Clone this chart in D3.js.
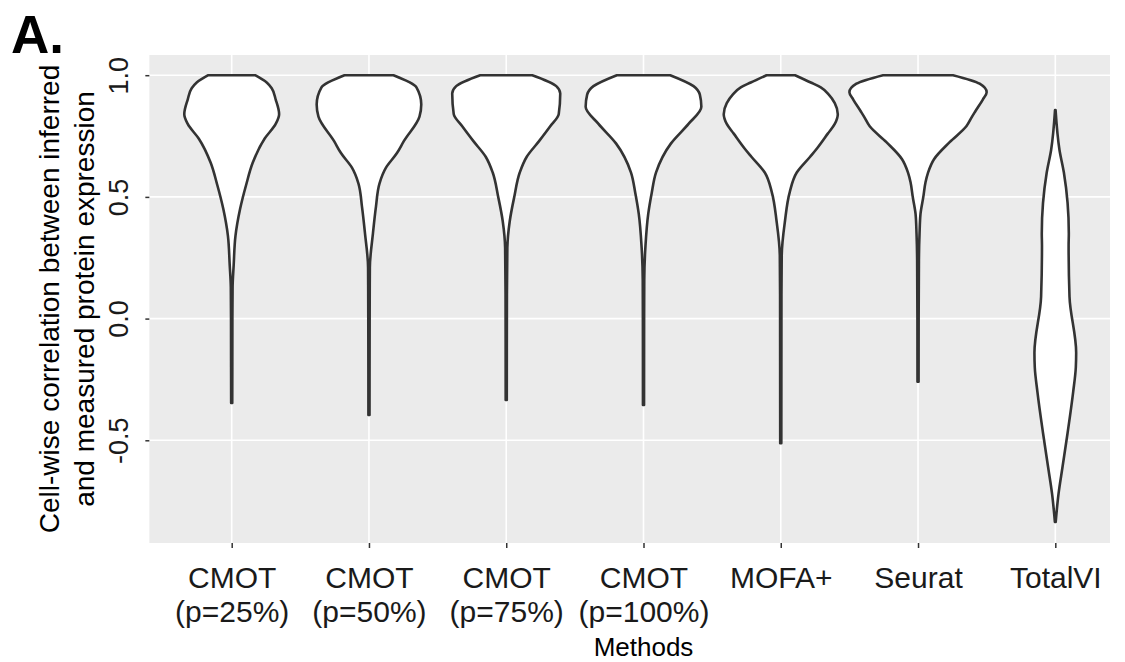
<!DOCTYPE html>
<html>
<head>
<meta charset="utf-8">
<script src="https://cdn.jsdelivr.net/npm/d3@7"></script>
<style>
body{margin:0;background:#fff}
text{font-family:"Liberation Sans",Arial,sans-serif}
</style>
</head>
<body>
<svg width="1125" height="662"></svg>
<script>
// categories and their two-line tick labels
var methods = ["CMOT (p=25%)","CMOT (p=50%)","CMOT (p=75%)","CMOT (p=100%)","MOFA+","Seurat","TotalVI"]
var methodLines = [["CMOT","(p=25%)"],["CMOT","(p=50%)"],["CMOT","(p=75%)"],["CMOT","(p=100%)"],["MOFA+"],["Seurat"],["TotalVI"]]
var yTicks = [-0.5, 0, 0.5, 1]
var yTickLabels = ["-0.5","0.0","0.5","1.0"]

// violin outlines: [correlation, relative density]
var cmot25 = [[1.0,.341],[0.97,.510],[0.946,.583],[0.9,.641],[0.84,.691],[0.80,.641],[0.74,.481],[0.64,.306],[0.55,.211],[0.45,.122],[0.34,.055],[0.22,.029],[0.13,.013],[0,.010],[-0.2,.009],[-0.347,.008]]
var cmot50 = [[1.0,.357],[0.95,.692],[0.88,.762],[0.83,.736],[0.73,.510],[0.68,.408],[0.62,.248],[0.555,.153],[0.46,.102],[0.35,.058],[0.21,.013],[0,.010],[-0.396,.008]]
var cmot75 = [[1.0,.379],[0.955,.729],[0.925,.787],[0.84,.765],[0.79,.641],[0.73,.481],[0.665,.299],[0.6,.197],[0.5,.117],[0.4,.051],[0.29,.016],[0.1,.010],[-0.334,.008]]
var cmot100 = [[1.0,.389],[0.955,.729],[0.92,.821],[0.87,.843],[0.8,.656],[0.72,.401],[0.6,.182],[0.515,.119],[0.43,.069],[0.3,.029],[0.16,.011],[0,.009],[-0.355,.008]]
var mofa = [[1.0,.207],[0.97,.437],[0.95,.583],[0.92,.700],[0.885,.787],[0.84,.831],[0.8,.787],[0.76,.685],[0.7,.530],[0.665,.428],[0.6,.233],[0.52,.131],[0.4,.061],[0.26,.014],[0.1,.010],[-0.512,.008]]
var seurat = [[1.0,.510],[0.965,.898],[0.93,1.0],[0.9,.944],[0.85,.831],[0.83,.787],[0.79,.704],[0.725,.461],[0.655,.233],[0.6,.146],[0.56,.109],[0.5,.077],[0.43,.036],[0.35,.022],[0.24,.013],[0,.009],[-0.259,.008]]
var totalvi = [[0.857,.004],[0.693,.061],[0.6,.125],[0.35,.197],[0.3,.194],[0.09,.207],[-0.14,.304],[-0.2,.299],[-0.3,.261],[-0.47,.179],[-0.61,.105],[-0.72,.047],[-0.835,.006]]
var violins = [cmot25, cmot50, cmot75, cmot100, mofa, seurat, totalvi]

var svg = d3.select("svg")

var x = d3.scalePoint().domain(methods).range([231.7, 1055.3])
var y = d3.scaleLinear().domain([-0.922, 1.083]).range([543, 55])
var w = d3.scaleLinear().domain([0, 1]).range([0, x.step() / 2])

var panelLeft = x.range()[0] - 0.6 * x.step()
var panelRight = 1110
var panelTop = y.range()[1], panelBottom = y.range()[0]

// panel
svg.append("rect")
  .attr("x", panelLeft).attr("y", panelTop)
  .attr("width", panelRight - panelLeft).attr("height", panelBottom - panelTop)
  .attr("fill", "#ebebeb")

svg.append("g").selectAll("line")
  .data(yTicks)
  .enter()
  .append("line")
  .attr("x1", panelLeft).attr("x2", panelRight)
  .attr("y1", function(d){return y(d)}).attr("y2", function(d){return y(d)})
  .attr("stroke", "#fff").attr("stroke-width", 1.6)

svg.append("g").selectAll("line")
  .data(methods)
  .enter()
  .append("line")
  .attr("y1", panelTop).attr("y2", panelBottom)
  .attr("x1", function(d){return x(d)}).attr("x2", function(d){return x(d)})
  .attr("stroke", "#fff").attr("stroke-width", 1.6)

// violins
var area = d3.area()
  .curve(d3.curveMonotoneY)
  .y(function(d){return y(d[0])})
  .x0(function(d){return -w(d[1])})
  .x1(function(d){return w(d[1])})

svg.append("g").selectAll("path")
  .data(violins)
  .enter()
  .append("path")
  .attr("transform", function(d, i){return "translate(" + x(methods[i]) + ",0)"})
  .attr("d", area)
  .attr("fill", "#fff")
  .attr("stroke", "#333")
  .attr("stroke-width", 2.6)
  .attr("stroke-linejoin", "round")

// y axis
var yAxis = svg.append("g")
  .attr("transform", "translate(" + panelLeft + ",0)")
  .call(d3.axisLeft(y).tickValues(yTicks).tickSize(4)
    .tickFormat(function(d, i){return yTickLabels[i]}))
yAxis.select(".domain").remove()
yAxis.selectAll(".tick line").attr("stroke", "#333").attr("stroke-width", 1.5)
yAxis.selectAll(".tick text")
  .attr("x", 0).attr("dy", 0)
  .attr("transform", "translate(-21,0) rotate(-90)")
  .attr("text-anchor", "middle")
  .attr("font-size", 27)
  .attr("fill", "#1a1a1a")

// x axis
var xAxis = svg.append("g")
  .attr("transform", "translate(0," + panelBottom + ")")
  .call(d3.axisBottom(x).tickSize(5).tickFormat(""))
xAxis.select(".domain").remove()
xAxis.selectAll(".tick line").attr("stroke", "#333").attr("stroke-width", 1.5)
xAxis.selectAll(".tick text").remove()
xAxis.selectAll(".tick")
  .append("text")
  .attr("text-anchor", "middle")
  .attr("font-size", 30)
  .attr("fill", "#1a1a1a")
  .selectAll("tspan")
  .data(function(d, i){return methodLines[i]})
  .enter()
  .append("tspan")
  .attr("x", 0)
  .attr("y", function(d, i){return 45 + i * 34})
  .text(function(d){return d})

// titles
svg.append("text")
  .attr("x", (x.range()[0] + x.range()[1]) / 2)
  .attr("y", 656)
  .attr("text-anchor", "middle")
  .attr("font-size", 26)
  .text("Methods")

var yTitle = svg.append("text")
  .attr("transform", "translate(0," + (panelTop + panelBottom) / 2 + ") rotate(-90)")
  .attr("text-anchor", "middle")
  .attr("font-size", 28)
yTitle.append("tspan").attr("x", 0).attr("y", 59).text("Cell-wise correlation between inferred")
yTitle.append("tspan").attr("x", 0).attr("y", 94).text("and measured protein expression")

svg.append("text")
  .attr("x", 11).attr("y", 53)
  .attr("font-size", 53)
  .attr("font-weight", "bold")
  .text("A.")
</script>
</body>
</html>
